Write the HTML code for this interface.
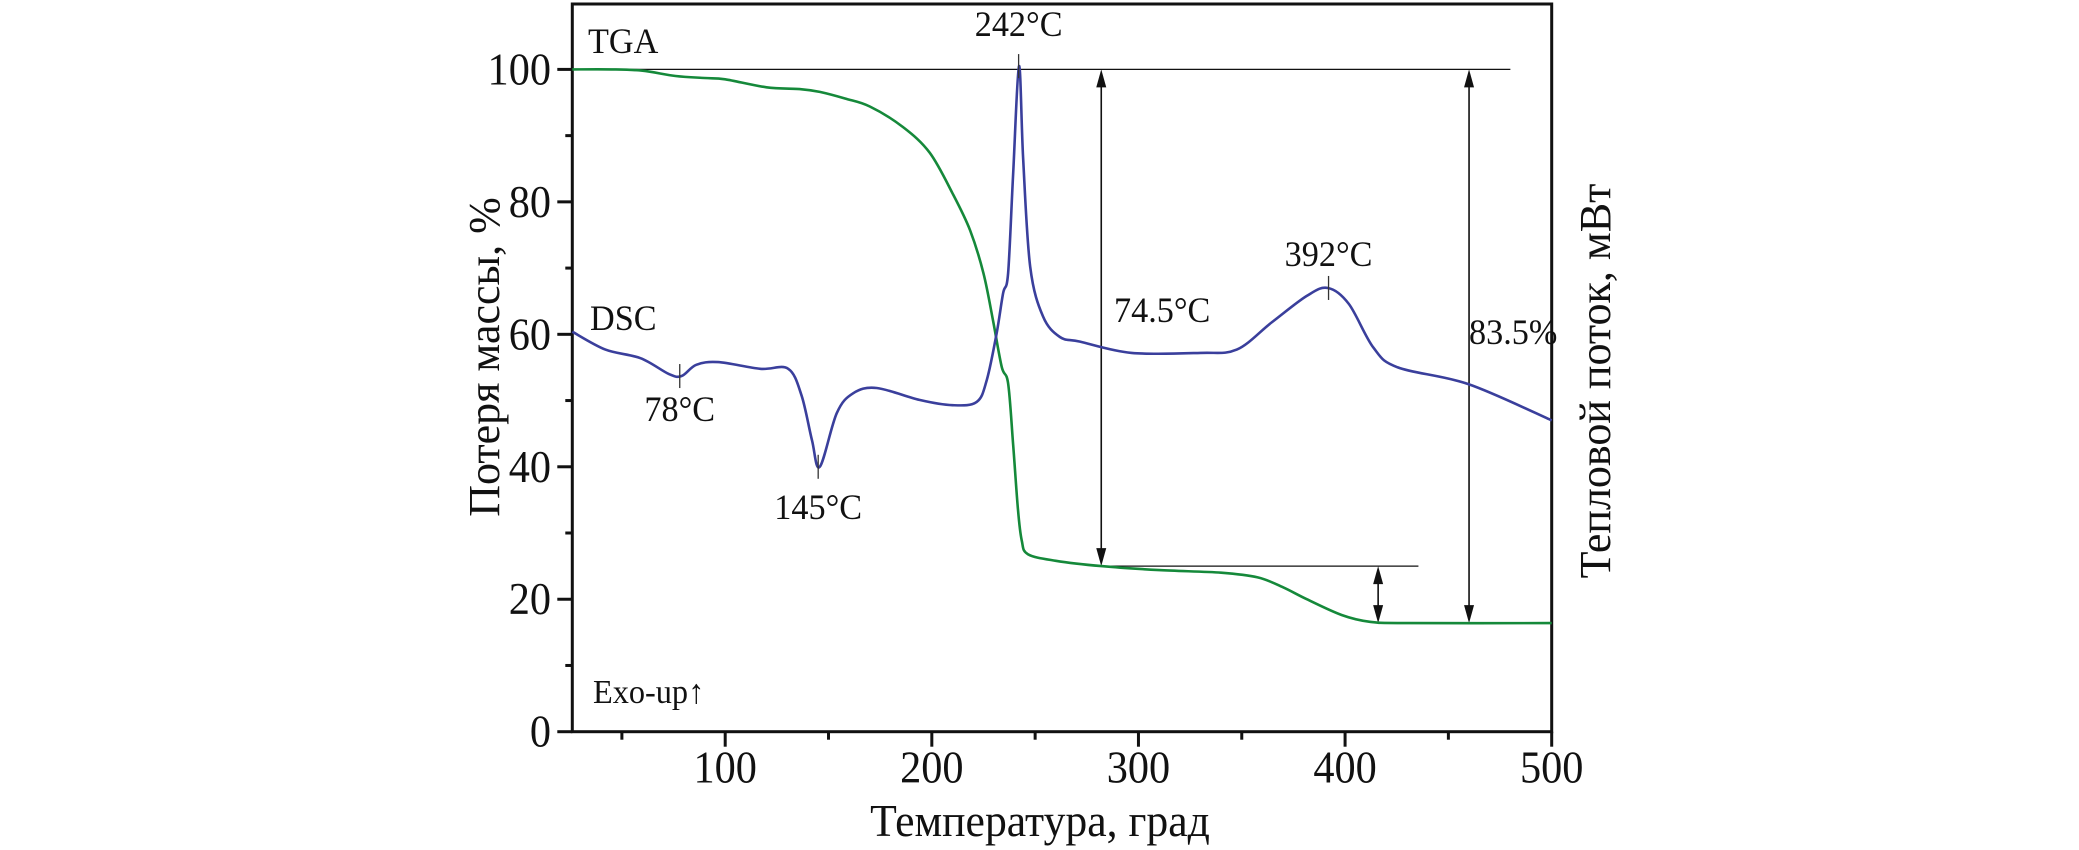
<!DOCTYPE html>
<html><head><meta charset="utf-8">
<style>
html,body{margin:0;padding:0;background:#fff;}
svg{display:block;}
text{font-family:"Liberation Serif","DejaVu Serif",serif;fill:#111;}
</style></head>
<body>
<svg id="chart" width="2079" height="850" viewBox="0 0 2079 850" xmlns="http://www.w3.org/2000/svg">
<g id="frame"></g>
<g id="marks"></g>
<g id="labels"></g>
</svg>
<script>
const xTicks = [100, 200, 300, 400, 500];
const xMinor = [50, 150, 250, 350, 450];
const yTicks = [0, 20, 40, 60, 80, 100];
const yMinor = [10, 30, 50, 70, 90];
const tgaT = [26, 45, 60, 76, 90, 100, 120, 137, 145.8, 158, 170, 186, 199, 210, 218.5, 225, 229.6, 233.8, 236.9, 239.3, 241.7, 243.5, 246.5, 260, 282, 310, 340, 357.7, 370, 381.5, 398.5, 412, 430, 500];
const tgaV = [100, 100, 99.8, 99, 98.7, 98.5, 97.3, 97, 96.6, 95.6, 94.4, 91.3, 87.4, 81.3, 75.7, 69.2, 62.1, 55.1, 52.6, 43.6, 33.5, 28.9, 26.8, 25.8, 25, 24.4, 24, 23.3, 21.8, 20, 17.6, 16.6, 16.4, 16.4];
const dscT = [26, 42, 59, 72.8, 78.9, 86, 96.6, 117, 130.5, 137, 142, 145.8, 154, 161.9, 173.3, 194, 210, 221.7, 226.6, 231.4, 234.5, 236.9, 239.3, 242.2, 244.2, 247.6, 253.8, 262, 271.7, 296.7, 330, 347.6, 364.5, 381.5, 391.7, 401.8, 413.7, 425.5, 459.5, 500];
const dscV = [60.4, 57.7, 56.4, 54, 53.7, 55.4, 55.8, 54.8, 54.8, 50.7, 44, 40, 48.1, 51.1, 51.9, 50.1, 49.3, 49.8, 53.1, 60.2, 66.2, 69.2, 83.8, 100.5, 86.4, 70.2, 62.7, 59.6, 58.9, 57.2, 57.2, 57.7, 61.8, 65.8, 67, 64.6, 58, 55, 52.5, 47];
const peakT = [78, 145, 242, 392];
const peakV = [53.7, 40, 100.5, 67];
const peakLabels = ["78°C", "145°C", "242°C", "392°C"];

const NS = "http://www.w3.org/2000/svg";
const X0 = 572.3, X1 = 1551.7, XMIN = 26, XMAX = 500;
const Y0 = 731.7, YPU = 6.623;
function sx(t){ return X0 + (t - XMIN) * (X1 - X0) / (XMAX - XMIN); }
function sy(v){ return Y0 - v * YPU; }
function el(tag, attrs, parent){
  const e = document.createElementNS(NS, tag);
  for (const k in attrs) e.setAttribute(k, attrs[k]);
  parent.appendChild(e); return e;
}
function txt(str, x, y, size, anchor, parent, sxf){
  const g = el('g', {transform:`translate(${x},${y}) scale(${sxf||0.88},1)`}, parent);
  const t = el('text', {x:0, y:0, 'font-size':size, 'text-anchor':anchor||'start'}, g);
  t.textContent = str; return t;
}
function smoothPath(xs, ys){
  const p = xs.map((x,i)=>[x, ys[i]]);
  let d = `M${p[0][0].toFixed(1)},${p[0][1].toFixed(1)}`;
  for (let i=0;i<p.length-1;i++){
    const a = p[i-1]||p[i], b=p[i], c=p[i+1], e=p[i+2]||c;
    const k=1/6;
    d += ` C${(b[0]+(c[0]-a[0])*k).toFixed(1)},${(b[1]+(c[1]-a[1])*k).toFixed(1)} ${(c[0]-(e[0]-b[0])*k).toFixed(1)},${(c[1]-(e[1]-b[1])*k).toFixed(1)} ${c[0].toFixed(1)},${c[1].toFixed(1)}`;
  }
  return d;
}
const frame = document.getElementById('frame');
const marks = document.getElementById('marks');
const labels = document.getElementById('labels');

const box = el('rect', {x:X0, y:4, width:X1-X0, height:Y0-4, fill:'none', stroke:'#111', 'stroke-width':3}, frame);



xTicks.forEach(t=>{
  const l = el('line', {x1:sx(t), x2:sx(t), y1:Y0, y2:Y0+15, stroke:'#111','stroke-width':3}, frame);
  
  
  const tx = txt(String(t), sx(t), Y0+51, 46, 'middle', labels, 0.92);
  
  
});
xMinor.forEach(t=>{
  const l = el('line', {x1:sx(t), x2:sx(t), y1:Y0, y2:Y0+8, stroke:'#111','stroke-width':3}, frame);
  
  
});
yTicks.forEach(v=>{
  const l = el('line', {x1:X0-15, x2:X0, y1:sy(v), y2:sy(v), stroke:'#111','stroke-width':3}, frame);
  
  
  const tx = txt(String(v), 551, sy(v)+15, 46, 'end', labels, 0.92);
  
  
});
yMinor.forEach(v=>{
  const l = el('line', {x1:X0-7, x2:X0, y1:sy(v), y2:sy(v), stroke:'#111','stroke-width':3}, frame);
  
  
});

function hline(t1, t2, v, name){
  const l = el('line', {x1:sx(t1), x2:sx(t2), y1:sy(v), y2:sy(v), stroke:'#111','stroke-width':1.3}, marks);
  
  
}
function arrow(t, v1, v2, name){
  const g = el('g', {}, marks);
  
  
  const x = sx(t), ya = sy(v1), yb = sy(v2);
  el('line', {x1:x, x2:x, y1:ya+14, y2:yb-14, stroke:'#111','stroke-width':1.6}, g);
  el('polygon', {points:`${x},${ya} ${x-5},${ya+18} ${x+5},${ya+18}`, fill:'#111'}, g);
  el('polygon', {points:`${x},${yb} ${x-5},${yb-18} ${x+5},${yb-18}`, fill:'#111'}, g);
}
hline(26, 480, 100, 'reference-line-100');
hline(282, 435.5, 25, 'reference-line-25');
arrow(282, 100, 25, 'arrow-74-5');
arrow(416, 25, 16.4, 'arrow-step2');
arrow(460, 100, 16.4, 'arrow-83-5');

const tga = el('path', {d:smoothPath(tgaT.map(sx), tgaV.map(sy)), fill:'none', stroke:'#15893a', 'stroke-width':2.6}, marks);


const dsc = el('path', {d:smoothPath(dscT.map(sx), dscV.map(sy)), fill:'none', stroke:'#3a3f9c', 'stroke-width':2.6}, marks);



const labelOff = [[0, 33], [0, 40], [0, -42], [0, -34]];
peakT.forEach((t,i)=>{
  const l = el('line', {x1:sx(t), x2:sx(t), y1:sy(peakV[i])-12, y2:sy(peakV[i])+12, stroke:'#333','stroke-width':1.3}, marks);
  
  
  const tx = txt(peakLabels[i], sx(t)+labelOff[i][0], sy(peakV[i])+labelOff[i][1]+12, 36, 'middle', labels, 0.95);
  
  
});

let t;
t = txt('TGA', 588, 53, 36, 'start', labels, 0.95);
 
t = txt('DSC', 590, 330, 36, 'start', labels, 0.95);
 
t = txt('74.5°C', 1114, 322, 36, 'start', labels, 0.95);
 
t = txt('83.5%', 1469, 344, 36, 'start', labels, 0.95);
 
t = txt('Exo-up↑', 593, 703, 34, 'start', labels, 0.95);
 
t = txt('Температура, град', 1040, 836, 46, 'middle', labels, 0.95);
 

let g = el('g', {transform:'translate(499,357) rotate(-90) scale(1.0,1)'}, labels);


el('text', {x:0, y:0, 'font-size':44, 'text-anchor':'middle'}, g).textContent = 'Потеря массы, %';
g = el('g', {transform:'translate(1610,381) rotate(-90) scale(1.0,1)'}, labels);


el('text', {x:0, y:0, 'font-size':44, 'text-anchor':'middle'}, g).textContent = 'Тепловой поток, мВт';
</script>
</body></html>
